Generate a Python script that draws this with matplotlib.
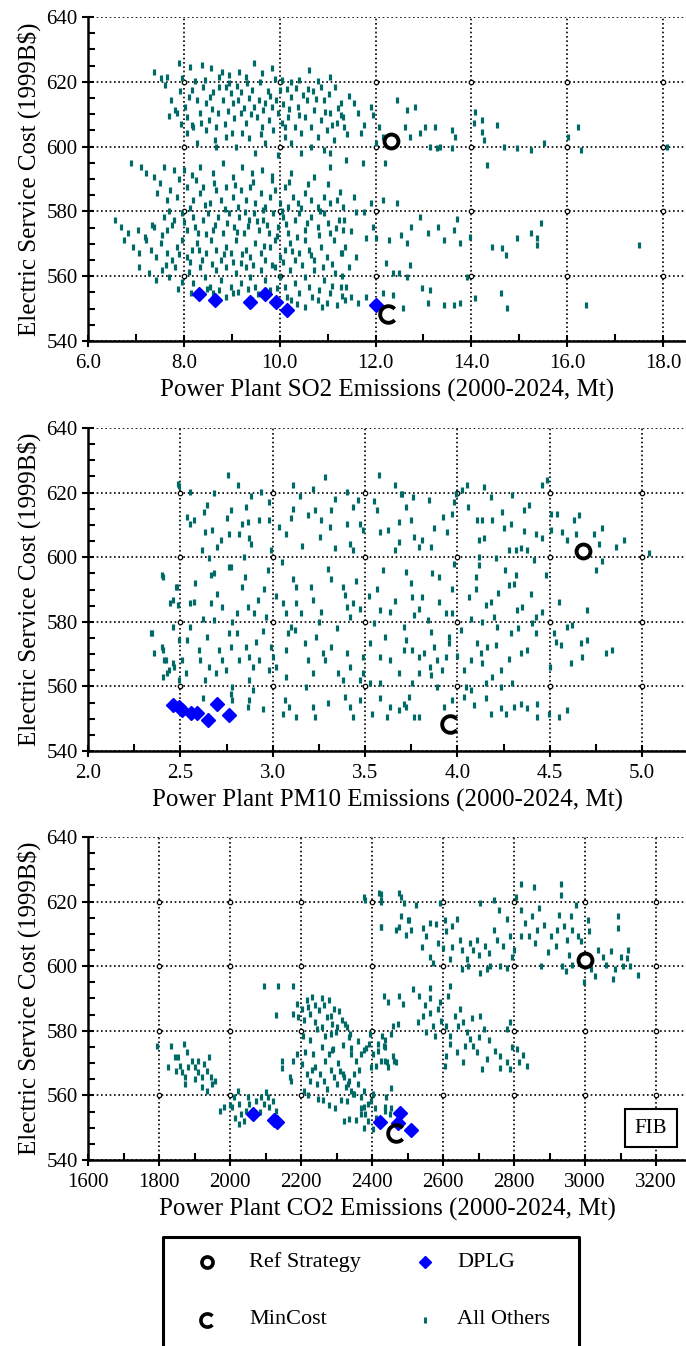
import matplotlib
matplotlib.use("Agg")
import matplotlib.pyplot as plt
from matplotlib.path import Path
from matplotlib.markers import MarkerStyle

plt.rcParams['font.family'] = ['Liberation Serif', 'DejaVu Serif']

# ---------------------------------------------------------------- data
cost_ticks = [540, 560, 580, 600, 620, 640]
cost_minor = [545, 550, 555, 565, 570, 575, 585, 590, 595, 605, 610, 615, 625, 630, 635]

so2_ticks = [6.0, 8.0, 10.0, 12.0, 14.0, 16.0, 18.0]
so2_minor = [7.0, 9.0, 11.0, 13.0, 15.0, 17.0]
pm10_ticks = [2.0, 2.5, 3.0, 3.5, 4.0, 4.5, 5.0]
pm10_minor = [2.25, 2.75, 3.25, 3.75, 4.25, 4.75]
co2_ticks = [1600, 1800, 2000, 2200, 2400, 2600, 2800, 3000, 3200]
co2_minor = [1700, 1900, 2100, 2300, 2500, 2700, 2900, 3100]

# Reference strategy and minimum-cost strategy (same cost in every panel)
ref_cost = 601.8
mincost_cost = 548.4
ref_so2, ref_pm10, ref_co2 = 12.33, 4.68, 3000
min_so2, min_pm10, min_co2 = 12.26, 3.96, 2467

# DPLG strategies
dplg_so2 = [8.32, 8.65, 9.39, 9.70, 9.92, 10.16, 12.00]
dplg_so2_cost = [554.4, 552.7, 552.0, 554.4, 552.1, 549.6, 551.1]
dplg_pm10 = [2.458, 2.495, 2.51, 2.56, 2.59, 2.65, 2.70, 2.765]
dplg_pm10_cost = [554.3, 553.5, 552.7, 551.9, 551.9, 549.6, 554.6, 551.2]
dplg_co2 = [2066, 2125, 2133, 2423, 2480, 2472, 2510]
dplg_co2_cost = [554.3, 552.5, 551.8, 551.8, 554.5, 551.5, 549.4]

# All other strategies: (SO2 emissions, cost)
so2_others = [
    (7.38, 623.1), (7.52, 621.1), (7.65, 621.6), (7.89, 625.7), (7.96, 621.1), (8.13, 624.7),
    (8.37, 625.2), (8.57, 624.2), (8.74, 621.6), (8.95, 622.1), (9.15, 623.1), (9.29, 621.6),
    (9.46, 625.7), (9.63, 622.6), (9.83, 624.2), (10.04, 620.6), (10.24, 620.0), (10.41, 620.6),
    (10.62, 623.6), (10.86, 618.5), (11.06, 621.6),
    (7.82, 611.3), (8.03, 612.3), (8.06, 609.2), (8.16, 617.5), (8.27, 614.4), (8.33, 610.3),
    (8.40, 618.5), (8.47, 613.4), (8.54, 615.4), (8.61, 617.0), (8.71, 610.3), (8.74, 618.5),
    (8.81, 614.4), (8.88, 618.5), (8.95, 619.5), (9.02, 613.4), (9.05, 608.7), (9.12, 614.4),
    (9.19, 610.3), (9.25, 611.8), (9.29, 607.2), (9.32, 619.5), (9.42, 617.5), (9.46, 612.3),
    (9.53, 609.2), (9.56, 614.4), (9.63, 606.2), (9.66, 611.3), (9.70, 613.4), (9.77, 608.2),
    (9.83, 612.3), (9.87, 605.1), (9.93, 614.4), (9.97, 610.3), (10.04, 607.2), (10.11, 603.1),
    (10.17, 609.2), (10.24, 615.4), (10.31, 606.2), (10.38, 612.3), (10.45, 604.1), (10.52, 609.2),
    (10.58, 614.4), (10.65, 606.2), (10.72, 611.3), (10.79, 603.1), (10.86, 608.2), (10.92, 614.4),
    (10.99, 605.1), (11.06, 610.3), (11.13, 602.0), (11.20, 607.2), (11.27, 613.4), (11.33, 609.2),
    (8.06, 604.1), (8.20, 606.2), (8.47, 605.1), (8.64, 602.0), (8.67, 600.0), (8.88, 603.1),
    (9.08, 600.0), (9.22, 604.1), (9.49, 597.9), (9.70, 601.0), (9.97, 597.4), (10.24, 601.0),
    (10.45, 597.9), (10.65, 600.0), (10.92, 599.0), (11.06, 597.9), (8.27, 601.0), (7.86, 610.3),
    (8.10, 615.2), (8.23, 620.3), (8.52, 608.1), (8.85, 607.0), (8.99, 616.5), (9.10, 618.8),
    (9.37, 615.0), (9.58, 619.9), (9.75, 617.1), (9.90, 620.9), (10.06, 613.0), (10.15, 617.9),
    (10.34, 618.2), (10.49, 616.0), (10.70, 617.3), (10.81, 620.2), (11.02, 616.1), (11.16, 618.4),
    (10.12, 606.0), (9.35, 602.5), (8.92, 610.9), (8.58, 611.7), (8.35, 607.3), (7.95, 607.1),
    (7.73, 614.5), (7.60, 618.9),
    (7.70, 609.3), (7.93, 617.3), (8.18, 606.6), (8.44, 620.7), (8.68, 606.0), (8.80, 622.9),
    (9.00, 604.3), (9.20, 617.0), (9.40, 610.2), (9.60, 603.8), (9.80, 615.5), (10.00, 617.4),
    (10.20, 611.5), (10.40, 609.8), (10.60, 617.7), (10.75, 614.8), (10.95, 610.6), (11.10, 606.6),
    (11.22, 611.8), (11.40, 603.8),
    (11.45, 615.5), (11.56, 613.4), (11.28, 609.8), (11.35, 606.2), (11.63, 610.3), (11.77, 606.6),
    (11.70, 604.1), (11.91, 612.3), (11.94, 609.8), (12.08, 606.2), (12.15, 603.1), (12.01, 601.0),
    (12.44, 614.4), (12.65, 611.3), (12.82, 612.3), (12.61, 606.2), (12.72, 603.1), (12.93, 604.1),
    (13.03, 606.2), (13.24, 606.2), (13.14, 600.0), (13.28, 599.5), (13.59, 605.1), (13.66, 603.1),
    (13.35, 600.0), (13.59, 599.5), (14.08, 610.8), (14.22, 608.2), (14.05, 607.2), (14.22, 604.6),
    (14.54, 606.6), (14.26, 602.0), (14.33, 594.3), (14.68, 600.0), (14.96, 599.5), (15.24, 599.0),
    (15.52, 601.0), (16.01, 603.1), (16.22, 606.2), (16.29, 599.0), (18.08, 600.0), (11.38, 595.9),
    (11.73, 594.8), (12.19, 594.8),
    (6.90, 594.8), (7.11, 593.8), (7.21, 591.7), (7.38, 590.7), (7.59, 593.8), (7.79, 592.8),
    (8.00, 592.8), (8.16, 591.2), (8.33, 593.8), (8.61, 591.7), (8.81, 594.8), (9.02, 590.7),
    (9.22, 593.8), (9.42, 591.7), (9.63, 592.8), (9.83, 589.7), (10.24, 591.7), (10.72, 590.7),
    (11.06, 593.8),
    (7.45, 585.6), (7.65, 583.5), (7.72, 586.6), (7.86, 584.5), (8.06, 587.6), (8.20, 583.5),
    (8.33, 585.6), (8.40, 587.6), (8.54, 582.5), (8.67, 586.6), (8.78, 583.5), (8.88, 587.6),
    (9.02, 584.5), (9.12, 581.5), (9.19, 586.6), (9.29, 583.5), (9.39, 587.6), (9.49, 582.5),
    (9.60, 585.6), (9.70, 581.5), (9.80, 584.5), (9.90, 586.6), (10.00, 582.5), (10.11, 587.6),
    (10.17, 581.5), (10.28, 584.5), (10.38, 582.5), (10.52, 585.6), (10.65, 583.5), (10.79, 581.5),
    (10.92, 584.5), (11.06, 582.5), (11.20, 583.5), (11.33, 581.5),
    (7.50, 588.9), (7.70, 580.2), (7.90, 590.1), (8.13, 580.9), (8.25, 589.6), (8.45, 582.0),
    (8.63, 588.8), (8.85, 580.6), (9.07, 588.1), (9.27, 579.9), (9.45, 589.0), (9.65, 580.4),
    (9.85, 590.9), (10.05, 580.1), (10.20, 589.0), (10.45, 580.9), (10.60, 588.5), (10.85, 580.2),
    (11.00, 588.6), (11.25, 586.0),
    (6.56, 577.3), (6.69, 575.3), (6.83, 573.2), (7.04, 574.3), (7.18, 572.2), (7.38, 575.3),
    (7.59, 578.4), (7.65, 574.3), (7.79, 577.3), (7.96, 579.4), (8.06, 574.3), (8.20, 578.4),
    (8.30, 573.2), (8.40, 577.3), (8.50, 579.4), (8.61, 574.3), (8.71, 578.4), (8.81, 573.2),
    (8.95, 579.4), (9.05, 575.3), (9.15, 578.4), (9.25, 573.2), (9.36, 577.3), (9.46, 579.4),
    (9.56, 574.3), (9.66, 577.3), (9.77, 573.2), (9.87, 579.4), (9.97, 575.3), (10.07, 578.4),
    (10.17, 573.2), (10.31, 577.3), (10.41, 579.4), (10.52, 574.3), (10.65, 578.4), (10.79, 575.3),
    (10.92, 579.4), (11.06, 573.2), (11.23, 577.3), (11.33, 574.3),
    (7.33, 575.9), (7.55, 572.8), (7.75, 575.7), (8.00, 576.8), (8.24, 575.1), (8.46, 572.9),
    (8.66, 575.9), (8.90, 576.5), (9.11, 573.7), (9.33, 575.6), (9.52, 576.9), (9.73, 575.9),
    (9.95, 572.4), (10.13, 576.2), (10.36, 572.0), (10.58, 576.5), (10.82, 572.6), (11.00, 576.3),
    (11.18, 574.8),
    (6.76, 571.2), (6.93, 569.1), (7.07, 567.1), (7.20, 571.2), (7.31, 568.1), (7.42, 566.0),
    (7.52, 570.2), (7.65, 567.1), (7.76, 565.0), (7.86, 569.1), (7.96, 571.2), (8.06, 566.0),
    (8.16, 568.1), (8.27, 570.2), (8.37, 565.0), (8.47, 567.1), (8.57, 571.2), (8.67, 568.1),
    (8.78, 565.0), (8.88, 569.1), (8.98, 567.1), (9.08, 571.2), (9.19, 564.0), (9.29, 568.1),
    (9.39, 566.0), (9.49, 570.2), (9.60, 567.1), (9.70, 565.0), (9.80, 569.1), (9.90, 571.2),
    (10.00, 566.0), (10.11, 568.1), (10.21, 570.2), (10.31, 565.0), (10.41, 567.1), (10.52, 571.2),
    (10.62, 568.1), (10.72, 565.0), (10.86, 569.1), (10.99, 566.0), (11.13, 571.2), (11.27, 567.1),
    (11.37, 569.1),
    (7.62, 563.6), (7.90, 566.8), (8.13, 564.4), (8.32, 568.0), (8.58, 563.7), (8.83, 566.9),
    (9.03, 564.3), (9.22, 566.7), (9.44, 563.6), (9.67, 569.2), (9.85, 563.4), (10.06, 564.4),
    (10.26, 567.8), (10.46, 563.5), (10.66, 566.6), (10.90, 562.8), (11.09, 563.9), (11.31, 560.0),
    (7.07, 562.9), (7.27, 560.9), (7.42, 558.8), (7.55, 561.9), (7.69, 559.8), (7.82, 562.9),
    (7.96, 558.3), (8.10, 561.4), (8.20, 557.8), (8.33, 562.9), (8.44, 559.8), (8.54, 556.8),
    (8.67, 561.9), (8.78, 558.8), (8.88, 562.9), (8.98, 556.8), (9.08, 560.9), (9.19, 557.8),
    (9.29, 562.9), (9.39, 559.8), (9.49, 556.8), (9.60, 561.9), (9.70, 558.8), (9.80, 555.7),
    (9.90, 562.9), (10.00, 559.8), (10.11, 556.8), (10.21, 561.9), (10.31, 557.8), (10.41, 554.7),
    (10.52, 559.8), (10.62, 556.8), (10.72, 561.9), (10.82, 555.7), (10.92, 558.8), (11.06, 554.7),
    (11.16, 560.9), (11.27, 556.8), (11.37, 552.7),
    (7.88, 556.2), (8.15, 554.9), (8.48, 556.0), (8.73, 555.6), (9.14, 555.0), (9.34, 556.2),
    (9.55, 554.6), (9.95, 556.3), (10.15, 553.5), (10.36, 551.3), (10.68, 553.6), (10.88, 550.5),
    (11.10, 556.9), (11.30, 554.0),
    (9.02, 554.7), (9.42, 552.7), (10.24, 552.7), (10.52, 550.6), (10.79, 552.7), (10.99, 551.6),
    (11.20, 551.1), (8.61, 554.7), (8.88, 553.7),
    (11.56, 584.5), (11.60, 579.9), (11.77, 579.9), (11.91, 582.5), (12.15, 583.5), (12.44, 582.5),
    (11.35, 577.3), (11.49, 573.8), (11.81, 571.7), (11.94, 575.3), (12.01, 571.7), (12.29, 571.2),
    (12.54, 572.8), (12.65, 570.2), (12.75, 575.3), (12.93, 578.4), (13.10, 573.3), (13.31, 575.3),
    (13.42, 571.2), (13.63, 574.3), (13.70, 577.8), (13.77, 570.2), (13.98, 572.2), (14.44, 569.1),
    (14.65, 568.6), (14.72, 566.5), (14.96, 571.7), (15.24, 573.3), (15.38, 571.7), (15.45, 576.3),
    (15.38, 569.6), (17.49, 569.6), (11.31, 567.1), (11.45, 562.9), (11.59, 566.0), (12.22, 564.0),
    (12.36, 560.9), (12.50, 560.9), (12.72, 563.5), (12.65, 559.8), (13.91, 559.8), (11.38, 556.8),
    (11.49, 553.7), (11.63, 551.6), (11.81, 553.7), (12.15, 554.7), (12.36, 554.2), (12.58, 550.1),
    (12.96, 556.3), (13.14, 555.7), (13.10, 551.6), (13.42, 551.1), (13.63, 551.1), (13.77, 551.6),
    (14.08, 553.2), (14.61, 554.7), (14.75, 550.1), (16.40, 551.1),
]

# All other strategies: (PM10 emissions, cost)
pm10_others = [
    (2.49, 622.8), (2.555, 620.2), (2.76, 625.4), (2.81, 622.3), (2.936, 620.2), (3.109, 622.3),
    (3.218, 621.2), (3.282, 624.8), (3.40, 620.2), (3.573, 625.4), (3.664, 622.3), (3.70, 619.7),
    (2.536, 612.5), (2.555, 610.4), (2.573, 611.4), (2.645, 616.1), (2.627, 614.0), (2.673, 608.4),
    (2.636, 607.8), (2.718, 605.3), (2.764, 607.3), (2.773, 614.5), (2.755, 612.0), (2.855, 615.6),
    (2.864, 610.9), (2.818, 607.3), (2.873, 605.8), (2.882, 604.2), (2.927, 611.4), (2.982, 611.4),
    (2.991, 602.2), (3.036, 609.4), (3.073, 607.3), (3.109, 615.0), (3.10, 612.0), (3.191, 613.0),
    (3.227, 614.5), (3.264, 611.4), (3.255, 606.3), (3.309, 609.4), (3.318, 614.5), (3.336, 602.7),
    (3.40, 610.4), (3.436, 615.6), (3.464, 617.6), (3.473, 610.4), (3.491, 608.4), (3.418, 604.2),
    (3.436, 602.2), (3.564, 614.5), (3.582, 607.8), (3.627, 608.4), (3.682, 611.0), (3.682, 604.7),
    (3.664, 602.2), (2.70, 603.2), (2.618, 602.2), (2.655, 599.6), (2.836, 610.4), (2.773, 597.0),
    (2.845, 600.1),
    (2.98, 617.0), (3.15, 619.0), (3.34, 618.0), (3.55, 617.5), (3.76, 618.5), (3.92, 612.5),
    (4.06, 615.5), (4.24, 614.0), (4.36, 608.0), (2.68, 620.0), (2.88, 619.0),
    (2.40, 594.4), (2.482, 590.8), (2.555, 585.7), (2.445, 585.7), (2.664, 594.4), (2.682, 595.0),
    (2.764, 597.0), (2.836, 590.8), (2.864, 584.6), (2.918, 586.7), (2.955, 590.3), (2.973, 596.0),
    (2.90, 582.6), (2.809, 582.6), (2.727, 584.6), (2.664, 585.7), (2.573, 586.2), (3.109, 593.4),
    (3.127, 590.8), (3.209, 590.8), (3.218, 586.7), (3.127, 585.7), (3.055, 585.7), (3.073, 582.6),
    (3.155, 582.6), (3.264, 583.1), (3.318, 593.4), (3.382, 590.8), (3.391, 588.2), (3.40, 584.6),
    (3.436, 585.7), (3.473, 584.1), (3.582, 583.6), (3.636, 583.1), (3.564, 590.3), (3.418, 581.5),
    (2.964, 581.5), (2.682, 580.5),
    (2.58, 592.0), (2.62, 581.0), (2.70, 588.5), (2.78, 580.0), (2.85, 594.0), (2.95, 577.0),
    (3.02, 588.0), (3.05, 598.5), (3.12, 577.5), (3.16, 603.5), (3.25, 580.0), (3.30, 596.5),
    (3.35, 578.0), (3.45, 592.5), (3.52, 588.0), (3.55, 579.5), (3.60, 596.0), (3.66, 586.5),
    (3.75, 592.0), (3.84, 580.5), (3.90, 586.0), (3.98, 598.0), (4.02, 577.5), (4.10, 594.0),
    (4.22, 589.0), (4.26, 596.0), (4.33, 578.0), (4.40, 588.5), (4.48, 594.5), (4.55, 586.0),
    (4.62, 579.0), (4.70, 583.5),
    (2.345, 576.4), (2.40, 572.3), (2.409, 568.1), (2.427, 564.0), (2.464, 566.1), (2.509, 568.1),
    (2.536, 574.3), (2.555, 578.5), (2.60, 571.2), (2.609, 568.1), (2.645, 575.4), (2.655, 566.1),
    (2.636, 562.0), (2.691, 564.0), (2.709, 571.2), (2.727, 568.1), (2.745, 565.1), (2.764, 576.4),
    (2.809, 576.4), (2.818, 568.1), (2.855, 572.3), (2.873, 569.2), (2.891, 566.1), (2.909, 573.8),
    (2.927, 568.1), (2.873, 562.0), (2.891, 558.9), (2.991, 572.3), (3.00, 569.2), (3.018, 566.1),
    (3.073, 571.2), (3.082, 576.4), (3.10, 578.5), (3.173, 573.3), (3.191, 568.1), (3.218, 564.0),
    (3.236, 575.4), (3.273, 570.2), (3.282, 568.1), (3.318, 572.3), (3.355, 564.0), (3.40, 570.2),
    (3.418, 566.1), (3.491, 569.2), (3.491, 564.0), (3.527, 573.3), (3.582, 569.2), (3.609, 575.4),
    (3.636, 568.1), (3.682, 564.0), (3.709, 571.2), (3.582, 560.9), (3.527, 560.9), (3.473, 562.0),
    (3.382, 562.0), (3.182, 559.9), (3.073, 563.0), (2.982, 565.1), (2.782, 559.9), (2.773, 572.3),
    (2.62, 556.5), (2.95, 553.0), (3.30, 555.0), (3.58, 556.5), (3.85, 566.0), (4.00, 569.5),
    (4.28, 568.5), (4.50, 566.0),
    (2.864, 553.7), (2.873, 555.8), (3.064, 555.8), (3.055, 551.6), (3.091, 553.7), (3.127, 550.6),
    (3.218, 553.7), (3.227, 550.6), (3.391, 556.8), (3.418, 553.7), (3.436, 550.6), (3.473, 555.8),
    (3.536, 551.6), (3.618, 550.6), (3.636, 553.7), (3.709, 554.7), (2.782, 555.8), (2.773, 557.8),
    (3.693, 619.7), (3.847, 617.6), (4.027, 620.7), (4.054, 622.3), (4.144, 621.8), (4.181, 618.7),
    (4.298, 619.2), (4.46, 622.3), (4.487, 623.8),
    (3.72, 615.6), (3.747, 611.4), (3.765, 606.3), (3.81, 605.3), (3.792, 603.2), (3.856, 603.2),
    (3.874, 608.9), (3.946, 607.8), (3.973, 613.5), (3.982, 617.1), (3.991, 619.7), (4.108, 611.4),
    (4.135, 611.4), (4.19, 611.4), (4.117, 605.3), (4.144, 605.8), (4.253, 608.9), (4.289, 610.4),
    (4.361, 614.5), (4.388, 616.1), (4.28, 602.2), (4.316, 602.2), (4.343, 602.7), (4.379, 602.2),
    (4.424, 607.3), (4.46, 605.8), (4.505, 613.5), (4.505, 608.4), (4.542, 613.5), (4.569, 607.8),
    (4.596, 605.3), (4.632, 611.4), (4.659, 613.0), (4.641, 607.3), (4.74, 607.3), (4.785, 608.9),
    (4.767, 604.2), (4.857, 603.2), (4.903, 605.3), (5.038, 601.2), (4.749, 596.1), (4.785, 598.7),
    (4.415, 599.1), (4.208, 599.6), (4.117, 600.1), (4.117, 597.5), (3.865, 595.0), (3.90, 594.0),
    (3.973, 590.3), (3.72, 595.5),
    (3.756, 587.7), (3.81, 587.7), (4.063, 587.7), (4.099, 590.3), (4.153, 585.2), (4.181, 586.2),
    (4.28, 591.3), (4.316, 594.4), (4.307, 591.8), (4.325, 583.6), (4.352, 584.6), (4.46, 583.1),
    (3.937, 582.6), (3.973, 582.6), (4.072, 581.0), (4.135, 580.0), (4.199, 581.5), (3.765, 582.0),
    (3.792, 584.1), (4.424, 581.5), (4.406, 579.5),
    (3.711, 578.5), (3.72, 574.3), (3.756, 571.2), (3.792, 569.2), (3.819, 570.2), (3.856, 576.9),
    (3.874, 572.3), (3.892, 568.1), (3.937, 569.2), (3.955, 575.4), (3.955, 573.3), (3.919, 565.1),
    (4.036, 565.1), (4.072, 568.1), (4.108, 573.3), (4.126, 570.2), (4.135, 567.1), (4.162, 572.3),
    (4.208, 572.8), (4.217, 578.5), (4.235, 565.1), (4.289, 576.4), (4.343, 570.2), (4.379, 571.2),
    (4.424, 576.4), (4.523, 576.4), (4.532, 573.8), (4.559, 572.8), (4.596, 578.5), (4.614, 567.1),
    (4.668, 573.3), (4.677, 569.2), (4.704, 574.3), (4.803, 570.2), (4.839, 571.2), (4.19, 563.0),
    (4.153, 560.9), (4.072, 558.9), (4.045, 559.9), (3.756, 560.9), (3.738, 556.8), (3.72, 553.7),
    (3.792, 564.0), (3.856, 563.5), (3.892, 559.9), (4.298, 560.9), (4.235, 559.9),
    (3.928, 553.7), (3.973, 555.8), (4.036, 556.8), (4.09, 554.2), (4.153, 556.3), (4.181, 551.6),
    (4.235, 553.2), (4.262, 551.6), (4.307, 553.7), (4.343, 554.7), (4.379, 553.2), (4.433, 554.7),
    (4.433, 550.6), (4.496, 551.6), (4.55, 550.6), (4.596, 552.6), (3.765, 550.6), (3.792, 550.6),
    (3.684, 552.6),
    (2.341, 576.5), (2.36, 570.3), (2.404, 571.3), (2.42, 568.2), (2.404, 594.0), (2.404, 563.0),
    (2.44, 565.1), (2.458, 567.2), (2.458, 586.8), (2.477, 590.9), (2.495, 621.9), (2.486, 585.2),
    (2.495, 574.4), (2.458, 578.5), (2.495, 562.0), (2.53, 564.1),
]

# All other strategies: (CO2 emissions, cost)
co2_others = [
    (2378, 621.5), (2426, 622.5), (2426, 620.0), (2426, 612.0),
    (2097, 593.8), (2135, 593.8), (2178, 593.8), (2130, 584.8), (2445, 589.0),
    (2188, 588.4), (2202, 586.8), (2216, 589.4), (2230, 590.4), (2178, 585.3), (2192, 584.3),
    (2207, 583.2), (2226, 585.3), (2240, 582.7), (2250, 586.3), (2264, 587.9), (2278, 589.4),
    (2292, 586.8), (2273, 584.3), (2288, 582.2), (2302, 581.1), (2283, 579.1), (2297, 579.6),
    (2330, 581.1), (2335, 578.0), (2316, 583.2), (2259, 581.1), (2268, 578.5), (2245, 580.6),
    (2205, 578.5), (2220, 587.5), (2240, 588.0), (2258, 590.0), (2283, 584.5), (2308, 586.0),
    (2145, 570.8), (2178, 570.8), (2188, 572.8), (2202, 569.7), (2211, 573.4), (2216, 566.6),
    (2226, 564.6), (2235, 572.8), (2240, 568.7), (2245, 563.5), (2254, 566.6), (2264, 564.6),
    (2268, 570.8), (2278, 572.8), (2288, 573.9), (2292, 565.6), (2302, 563.5), (2311, 567.7),
    (2321, 565.6), (2326, 562.5), (2335, 564.6), (2340, 561.5), (2350, 560.4), (2359, 563.5),
    (2369, 559.4), (2378, 561.5), (2340, 572.8), (2354, 570.8), (2378, 573.9), (2392, 576.0),
    (2416, 576.0), (2435, 575.0), (2426, 570.8), (2397, 568.7), (2445, 568.7), (2173, 564.6),
    (2168, 565.6), (2145, 568.5),
    (2290, 574.5), (2305, 570.0), (2318, 575.5), (2350, 566.5), (2362, 568.0), (2225, 577.0),
    (2232, 568.0), (2258, 575.0), (2272, 562.0), (2285, 568.0), (2208, 561.5), (2220, 560.0),
    (2247, 559.0), (2262, 558.5), (2278, 557.0), (2296, 556.0), (2312, 558.5),
    (2321, 552.1), (2335, 552.6), (2369, 554.2), (2378, 556.3), (2388, 552.1), (2397, 558.3),
    (2435, 556.3), (2450, 554.2), (2440, 559.4), (2378, 550.0), (2402, 549.5), (2355, 552.5),
    (2410, 553.0),
    (1795, 575.4), (1835, 575.4), (1869, 576.0), (1826, 568.7), (1854, 571.8), (1859, 569.2),
    (1864, 567.2), (1873, 565.6), (1873, 563.5), (1892, 570.8), (1902, 568.7), (1911, 567.2),
    (1921, 565.6), (1926, 569.7), (1935, 567.7), (1940, 571.8), (1945, 565.6), (1950, 563.5),
    (1959, 564.6), (1935, 561.5), (1883, 568.7), (1849, 567.7), (1911, 570.8), (1845, 572.0),
    (1880, 573.5), (1900, 565.0), (1920, 562.5),
    (1973, 555.2), (1983, 556.3), (2011, 559.4), (2021, 561.5), (2026, 557.3), (2030, 554.2),
    (2040, 552.1), (2045, 555.2), (2054, 557.3), (2073, 558.3), (2088, 559.4), (2097, 557.3),
    (2107, 559.4), (2111, 556.3), (2121, 558.3), (2130, 555.2), (2006, 556.3), (2026, 551.1),
    (2064, 554.2), (2000, 557.0), (2015, 553.0), (2050, 559.5), (2085, 555.0), (2100, 561.0),
    (2420, 622.6), (2477, 622.6), (2491, 619.5), (2524, 619.0), (2591, 619.5), (2481, 615.4),
    (2505, 614.4), (2510, 611.3), (2467, 611.3), (2496, 609.7), (2543, 611.8), (2562, 613.3),
    (2553, 609.2), (2586, 607.2), (2605, 614.4), (2609, 610.8), (2624, 612.3), (2647, 608.2),
    (2652, 605.1), (2666, 602.1), (2676, 607.2), (2695, 608.2), (2685, 605.1), (2704, 619.5),
    (2742, 620.5), (2756, 617.4), (2718, 606.2), (2742, 611.3), (2751, 608.2), (2770, 606.2),
    (2789, 609.2), (2794, 603.0), (2761, 600.0), (2723, 599.0), (2704, 598.0), (2732, 600.0),
    (2780, 599.5), (2652, 599.0), (2671, 600.0), (2619, 602.1), (2571, 601.1), (2562, 603.0),
    (2540, 606.0), (2580, 613.0), (2600, 605.5), (2625, 606.0), (2640, 614.5), (2700, 603.5),
    (2730, 604.0), (2780, 614.5), (2800, 605.0),
    (2818, 625.6), (2856, 624.6), (2931, 625.6), (2931, 622.0), (2804, 621.5), (2818, 617.4),
    (2832, 613.3), (2851, 615.4), (2865, 611.3), (2842, 609.2), (2860, 607.2), (2884, 612.8),
    (2903, 609.2), (2917, 606.2), (2922, 611.3), (2941, 612.3), (2960, 615.4), (2964, 611.3),
    (2979, 609.2), (2988, 607.7), (2950, 608.2), (3008, 614.4), (3012, 610.8), (3093, 615.4),
    (3093, 611.8), (2875, 600.0), (2936, 600.0), (2945, 598.5), (2964, 600.3), (2818, 609.2),
    (2870, 618.0), (2895, 604.5), (2925, 616.0), (2955, 603.5), (2975, 619.0),
    (3036, 605.1), (3050, 603.0), (3074, 604.6), (3083, 599.0), (3079, 596.0), (3122, 605.1),
    (3117, 602.6), (3126, 600.0), (3107, 600.0), (3150, 597.4), (3027, 597.0), (2998, 595.0),
    (3017, 599.0), (3060, 600.5), (3100, 603.0),
    (2434, 590.8), (2477, 590.8), (2486, 588.2), (2514, 592.8), (2533, 590.8), (2562, 593.3),
    (2562, 590.3), (2619, 593.8), (2614, 590.8), (2550, 588.0), (2590, 589.0),
    (2529, 582.6), (2543, 584.6), (2562, 585.6), (2571, 581.5), (2586, 586.7), (2595, 583.1),
    (2552, 579.5), (2576, 578.5), (2609, 581.5), (2619, 578.5), (2633, 584.6), (2647, 586.7),
    (2643, 581.5), (2657, 582.6), (2666, 579.5), (2676, 577.4), (2685, 575.4), (2695, 573.3),
    (2661, 575.4), (2704, 584.6), (2714, 580.5), (2609, 572.3), (2605, 569.2), (2657, 570.2),
    (2709, 568.2), (2723, 571.3), (2747, 573.8), (2761, 572.3), (2780, 570.3), (2789, 568.2),
    (2808, 574.4), (2813, 570.3), (2789, 582.6), (2780, 580.5), (2837, 569.2),
    (2620, 576.0), (2640, 573.5), (2680, 584.0), (2700, 578.0), (2730, 577.0), (2760, 568.5),
    (2795, 575.0), (2825, 572.5),
    (2429, 578.5), (2458, 581.5), (2434, 575.4), (2458, 572.3), (2443, 570.3), (2467, 570.3),
    (2379, 620.4), (2425, 620.4), (2481, 621.4), (2425, 612.1), (2476, 612.1), (2500, 614.2),
    (2323, 582.0), (2337, 579.0), (2342, 574.8), (2361, 576.9), (2370, 572.7), (2384, 574.8),
    (2393, 579.0), (2402, 572.7), (2416, 573.8), (2411, 569.1), (2435, 570.7), (2463, 570.7),
    (2435, 577.0), (2453, 579.0), (2472, 582.1),
    (2318, 566.5), (2332, 563.4), (2346, 560.3), (2328, 558.2), (2370, 556.2), (2379, 554.1),
    (2388, 557.2), (2402, 560.3), (2407, 556.2), (2453, 562.4), (2435, 555.1), (2453, 556.2),
]

# ---------------------------------------------------------------- styling
TEAL = '#006b66'
BLUE = '#0000ff'
min_marker = MarkerStyle(Path.arc(42, 318))
panels = [
    dict(others=so2_others, dplg=(dplg_so2, dplg_so2_cost), ref=ref_so2, mn=min_so2,
         xlim=(6.0, 18.48), ticks=so2_ticks, minor=so2_minor, fmt='{:.1f}',
         label='Power Plant SO2 Emissions (2000-2024, Mt)', rect=[0.12828, 0.74666, 0.87172, 0.24071]),
    dict(others=pm10_others, dplg=(dplg_pm10, dplg_pm10_cost), ref=ref_pm10, mn=min_pm10,
         xlim=(2.0, 5.238), ticks=pm10_ticks, minor=pm10_minor, fmt='{:.1f}',
         label='Power Plant PM10 Emissions (2000-2024, Mt)', rect=[0.12828, 0.44205, 0.87172, 0.23997]),
    dict(others=co2_others, dplg=(dplg_co2, dplg_co2_cost), ref=ref_co2, mn=min_co2,
         xlim=(1600, 3284), ticks=co2_ticks, minor=co2_minor, fmt='{:.0f}',
         label='Power Plant CO2 Emissions (2000-2024, Mt)', rect=[0.12828, 0.13819, 0.87172, 0.23997]),
]

fig = plt.figure(figsize=(6.86, 13.46), dpi=100)

for i, p in enumerate(panels):
    ax = fig.add_axes(p['rect'])
    ax.set_xlim(*p['xlim'])
    ax.set_ylim(540, 640)
    ax.set_xticks(p['ticks'])
    ax.set_xticks(p['minor'], minor=True)
    ax.set_xticklabels([p['fmt'].format(t) for t in p['ticks']])
    ax.set_yticks(cost_ticks)
    ax.set_yticks(cost_minor, minor=True)
    ax.set_yticklabels([str(t) for t in cost_ticks])
    for s in ('top', 'right'):
        ax.spines[s].set_visible(False)
    for s in ('left', 'bottom'):
        ax.spines[s].set_linewidth(1.8)
    ax.tick_params(which='major', direction='inout', length=9, width=1.5, labelsize=15, pad=3)
    ax.tick_params(which='minor', direction='in', length=5, width=1.5)
    ax.tick_params(axis='x', which='major', pad=5)
    ax.grid(True, which='major', color='black', linestyle=(0, (1, 1.6)), linewidth=1.2)
    ax.set_axisbelow(True)
    # small rings at grid intersections
    gx = [t for t in p['ticks'][1:]]
    gy = [t for t in cost_ticks[1:-1]]
    ax.plot([x for x in gx for _ in gy], [y for _ in gx for y in gy], 'o', ms=3.2,
            mfc='white', mec='black', mew=0.9, zorder=1.5)

    ox = [q[0] for q in p['others']]
    oy = [q[1] for q in p['others']]
    ax.plot(ox, oy, linestyle='none', marker='|', ms=5, mew=2.3, color=TEAL, zorder=3)
    ax.plot(p['dplg'][0], p['dplg'][1], linestyle='none', marker='D', ms=7, color=BLUE,
            mec=BLUE, zorder=4)
    ax.plot([p['ref']], [ref_cost], linestyle='none', marker='o', ms=10, mfc='white',
            mec='black', mew=2.8, zorder=5)
    ax.plot([p['mn']], [mincost_cost], linestyle='none', marker=min_marker, ms=12,
            mfc='none', mec='black', mew=2.8, zorder=5)

    ax.set_xlabel(p['label'], fontsize=18, labelpad=4)
    ax.set_ylabel('Electric Service Cost (1999B\\$)', fontsize=18, labelpad=4)
    if i == 2:
        ax.text(0.9415, 0.099, 'FIB', transform=ax.transAxes, fontsize=15, ha='center',
                va='center', zorder=6,
                bbox=dict(boxstyle='square,pad=0.45', fc='white', ec='black', lw=1.5))

# ---------------------------------------------------------------- legend
lg = fig.add_axes([163 / 686, 0.0, 416 / 686, 109 / 1346])
lg.set_xlim(0, 1)
lg.set_ylim(0, 1)
lg.axis('off')
lg.plot([0, 0, 1, 1], [-0.05, 1, 1, -0.05], color='black', lw=2.2, clip_on=False)
row1, row2 = 0.77, 0.24
c1m, c1t, c2m, c2t = 0.106, 0.207, 0.63, 0.707
lg.plot([c1m], [row1], linestyle='none', marker='o', ms=8, mfc='white', mec='black', mew=2.6)
lg.plot([c1m], [row2], linestyle='none', marker=min_marker, ms=9.5, mfc='none', mec='black', mew=2.6)
lg.plot([c2m], [row1], linestyle='none', marker='D', ms=6, color=BLUE)
lg.plot([c2m], [row2], linestyle='none', marker='|', ms=4.5, mew=2.2, color=TEAL)
for x, y, t in [(c1t, row1, 'Ref Strategy'), (c1t, row2, 'MinCost'),
                (c2t, row1, 'DPLG'), (c2t, row2, 'All Others')]:
    lg.text(x, y, t, fontsize=16, va='center', ha='left')

fig.savefig('out.png', dpi=100)
